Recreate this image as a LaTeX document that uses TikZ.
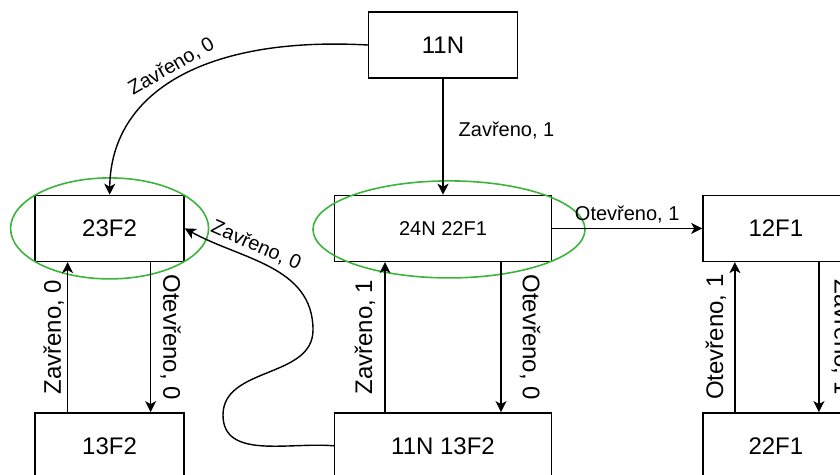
\documentclass[tikz,border=0pt]{standalone}
\usepackage{fontspec}
\setmainfont{Liberation Sans}
\usepackage{xcolor}
\usetikzlibrary{positioning,arrows.meta,shapes.geometric}
\definecolor{grpgreen}{RGB}{60,180,60}

\begin{document}
\begin{tikzpicture}[
  x=1pt, y=1pt,
  >={Stealth[length=11pt, width=11pt, inset=3pt]},
  font=\fontsize{20}{24}\selectfont,
  state/.style={draw, line width=1.4pt, minimum width=149pt, minimum height=66pt, inner sep=0pt, font=\fontsize{24}{28}\selectfont},
  wide/.style={state, minimum width=217pt},
  narrow/.style={state, minimum width=146pt},
  group/.style={draw=grpgreen, line width=1.6pt, ellipse, inner sep=0pt},
  arr/.style={->, line width=1.4pt},
  lbl/.style={inner sep=3pt},
  vlbl/.style={lbl, font=\fontsize{24}{28}\selectfont, anchor=south},
]

\useasboundingbox (0,0) rectangle (840,-474);
\clip (0,0) rectangle (840,-474);

% Top state
\node[state] (s11) at (443,-45) {11N};

% Middle row
\node[wide, below=116pt of s11, font=\fontsize{20}{24}\selectfont] (s24) {24N 22F1};
\node[state, left=149pt of s24] (s23) {23F2};
\node[narrow, right=150pt of s24] (s12) {12F1};

% Bottom row
\node[wide, below=150pt of s24] (s1113) {11N 13F2};
\node[state, below=150pt of s23] (s13) {13F2};
\node[narrow, below=150pt of s12] (s22) {22F1};

% Groups
\node[group, minimum width=198pt, minimum height=101pt] (g23) at (s23) {};
\node[group, minimum width=272pt, minimum height=97pt] (g24) at ([xshift=6pt, yshift=-1pt]s24.center) {};

% Bends of the S curve
\coordinate (bendA) at (223,-415);
\coordinate (bendB) at (313,-330);

% Edges
\draw[arr] (s11.south) -- node[lbl, pos=0.45, right=12pt] {Zavřeno, 1} (s24.north);
\draw[arr] (s11.west) .. controls (205,-36) and (111,-92) .. node[lbl, pos=0.5, sloped, above=1pt] {Zavřeno, 0} (s23.north);
\draw[arr] (s24.east) -- node[lbl, midway, above=2pt] {Otevřeno, 1} (s12.west);

\draw[arr] ([xshift=-42pt]s13.north) -- node[vlbl, midway, rotate=90, yshift=0pt] {Zavřeno, 0} ([xshift=-42pt]s23.south);
\draw[arr] ([xshift=41pt]s23.south) -- node[vlbl, midway, rotate=-90, yshift=6pt] {Otevřeno, 0} ([xshift=41pt]s13.north);

\draw[arr] ([xshift=-58pt]s1113.north) -- node[vlbl, midway, rotate=90, yshift=6pt] {Zavřeno, 1} ([xshift=-58pt]s24.south);
\draw[arr] ([xshift=58pt]s24.south) -- node[vlbl, midway, rotate=-90, yshift=15pt] {Otevřeno, 0} ([xshift=58pt]s1113.north);

\draw[arr] ([xshift=-41pt]s22.north) -- node[vlbl, midway, rotate=90, yshift=5pt] {Otevřeno, 1} ([xshift=-41pt]s12.south);
\draw[arr] ([xshift=43pt]s12.south) -- node[vlbl, midway, rotate=-90, yshift=9pt] {Zavřeno, 1} ([xshift=43pt]s22.north);

\draw[arr] (s1113.west) to[out=175, in=270] (bendA) to[out=90, in=270] (bendB)
  to[out=90, in=-29] node[lbl, pos=0.62, sloped, above=1pt] {Zavřeno, 0} (s23.east);

\end{tikzpicture}
\end{document}
